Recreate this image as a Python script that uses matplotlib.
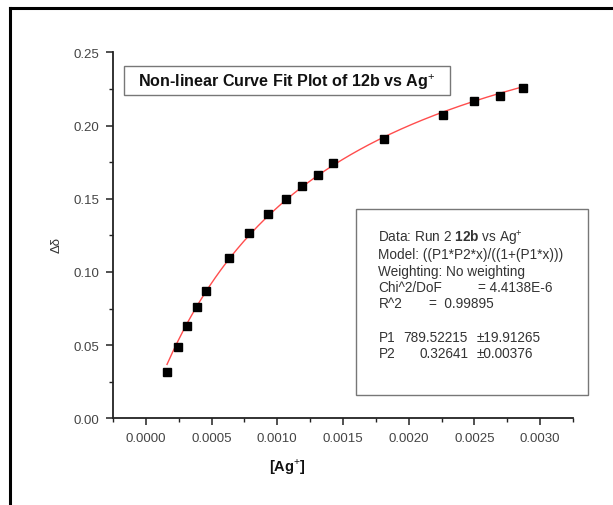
import numpy as np
import matplotlib.pyplot as plt
from matplotlib.patches import Rectangle
from matplotlib.lines import Line2D

plt.rcParams['font.family'] = ['Liberation Sans', 'DejaVu Sans']
plt.rcParams['mathtext.fontset'] = 'custom'
plt.rcParams['mathtext.rm'] = 'Liberation Sans'
plt.rcParams['mathtext.bf'] = 'Liberation Sans:bold'

# measured points: [Ag+] vs chemical shift change
ag_conc = [0.000161, 0.000241, 0.000315, 0.000387, 0.000461, 0.000631, 0.000783,
           0.000926, 0.001069, 0.001191, 0.001309, 0.001423, 0.001813, 0.002259,
           0.002500, 0.002697, 0.002866]
delta_shift = [0.0318, 0.0489, 0.0630, 0.0760, 0.0870, 0.1097, 0.1264, 0.1395,
               0.1496, 0.1587, 0.1664, 0.1746, 0.1906, 0.2074, 0.2167, 0.2204, 0.2256]

# fitted parameters (as reported on the plot)
P1 = 789.52215
P2 = 0.32641

x_ticks = [0.0, 0.0005, 0.0010, 0.0015, 0.0020, 0.0025, 0.0030]
y_ticks = [0.00, 0.05, 0.10, 0.15, 0.20, 0.25]

W, H = 613, 506
fig = plt.figure(figsize=(W / 100, H / 100), dpi=100)


def fx(px):
    return px / W


def fy(py):
    return 1 - py / H


ax = fig.add_axes([fx(113), fy(419.3), fx(573) - fx(113), fy(53.3) - fy(419.3)])

# model curve from the fitted parameters
xfit = np.linspace(min(ag_conc), max(ag_conc), 200)
yfit = P1 * P2 * xfit / (1 + P1 * xfit)
ax.plot(xfit, yfit, color='#ff4d4d', lw=1.0, zorder=2)
ax.plot(ag_conc, delta_shift, 's', color='black', ms=5.6, zorder=3)

ax.set_xlim(-0.00025, 0.00325)
ax.set_ylim(0, 0.25)
ax.set_xticks(x_ticks)
ax.set_xticks(np.arange(-0.00025, 0.00326, 0.0005), minor=True)
ax.set_yticks(y_ticks)
ax.set_yticks([0.025, 0.075, 0.125, 0.175, 0.225], minor=True)
ax.set_xticklabels(['%.4f' % v for v in x_ticks])
ax.set_yticklabels(['%.2f' % v for v in y_ticks])

for s in ['top', 'right']:
    ax.spines[s].set_visible(False)
for s in ['left', 'bottom']:
    ax.spines[s].set_linewidth(1.3)
    ax.spines[s].set_color('#222222')
ax.tick_params(which='major', direction='out', length=5, width=1.1, color='#222222',
               labelsize=9.5, labelcolor='#444444', pad=5)
ax.tick_params(which='minor', direction='out', length=3, width=1.0, color='#222222')

fig.text(fx(287), fy(467), r'[Ag$^{+}$]', fontsize=10.5, fontweight='bold',
         ha='center', va='center', color='#111111')
fig.text(fx(57), fy(245), 'Δδ', fontsize=9.5, rotation=90, ha='center', va='center',
         color='#333333')

# title box
fig.patches.append(Rectangle((fx(124), fy(96.3)), fx(449.6) - fx(124), fy(66.7) - fy(96.3),
                             transform=fig.transFigure, fill=False, ec='#777777', lw=1.0))
fig.text(fx(287), fy(82), r'Non-linear Curve Fit Plot of 12b vs Ag$^{+}$', fontsize=11.6,
         fontweight='bold', ha='center', va='center', color='#111111')

# fit statistics box
fig.patches.append(Rectangle((fx(355.7), fy(395.7)), fx(588.4) - fx(355.7), fy(210) - fy(395.7),
                             transform=fig.transFigure, fill=False, ec='#777777', lw=1.0))
tc = '#333333'
fs = 9.8
x0 = 378.4
fig.text(fx(x0), fy(239), r'Data: Run 2 $\mathbf{12b}$ vs Ag$^{+}$', fontsize=fs, color=tc, va='center')
fig.text(fx(x0), fy(255.3), 'Model: ((P1*P2*x)/((1+(P1*x)))', fontsize=fs, color=tc, va='center')
fig.text(fx(x0), fy(271.7), 'Weighting: No weighting', fontsize=fs, color=tc, va='center')
fig.text(fx(x0), fy(287.7), 'Chi^2/DoF', fontsize=fs, color=tc, va='center')
fig.text(fx(477.7), fy(287.7), '= 4.4138E-6', fontsize=fs, color=tc, va='center')
fig.text(fx(x0), fy(304), 'R^2', fontsize=fs, color=tc, va='center')
fig.text(fx(428.8), fy(304), '=  0.99895', fontsize=fs, color=tc, va='center')
fig.text(fx(x0), fy(337.7), 'P1', fontsize=fs, color=tc, va='center')
fig.text(fx(403.4), fy(337.7), '%.5f' % P1, fontsize=fs, color=tc, va='center')
fig.text(fx(476.2), fy(337.7), '±19.91265', fontsize=fs, color=tc, va='center')
fig.text(fx(x0), fy(354), 'P2', fontsize=fs, color=tc, va='center')
fig.text(fx(419), fy(354), '%.5f' % P2, fontsize=fs, color=tc, va='center')
fig.text(fx(476.2), fy(354), '±0.00376', fontsize=fs, color=tc, va='center')

# outer frame (top and left edges)
fig.lines.append(Line2D([fx(10), 1.0], [fy(9), fy(9)], transform=fig.transFigure,
                        color='black', lw=2.2))
fig.lines.append(Line2D([fx(10), fx(10)], [fy(9), 0.0], transform=fig.transFigure,
                        color='black', lw=2.2))

fig.savefig('out.png', dpi=100)
